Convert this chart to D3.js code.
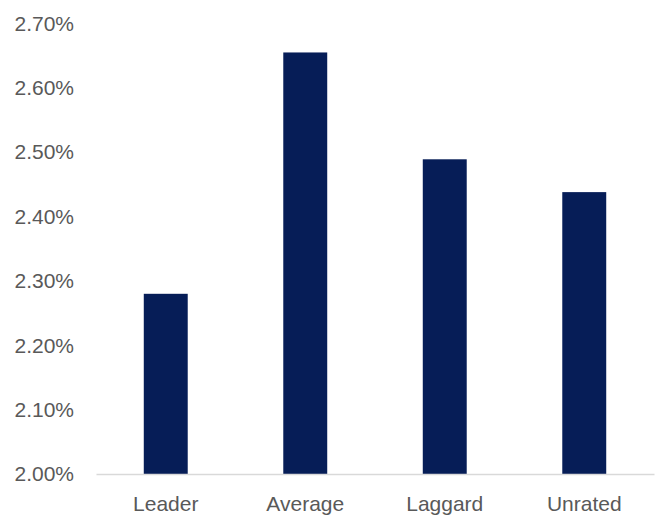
<!DOCTYPE html>
<html>
<head>
<meta charset="utf-8">
<script src="https://cdn.jsdelivr.net/npm/d3@7"></script>
<style>
  body { margin: 0; background: #fff; }
  .tick text { font-family: "Liberation Sans", Arial, sans-serif; font-size: 21px; fill: #595959; }
</style>
</head>
<body>
<div id="chart"></div>
<script>
// data
var categories = ["Leader", "Average", "Laggard", "Unrated"];
var values = [2.28, 2.655, 2.489, 2.438];
var yTicks = [2.0, 2.1, 2.2, 2.3, 2.4, 2.5, 2.6, 2.7];

// svg area
var svgWidth = 665;
var svgHeight = 516;

var chartMargin = { top: 23.5, right: 11, bottom: 42, left: 96 };
var chartWidth = svgWidth - chartMargin.left - chartMargin.right;
var chartHeight = svgHeight - chartMargin.top - chartMargin.bottom;

var svg = d3.select("#chart")
    .append("svg")
    .attr("width", svgWidth)
    .attr("height", svgHeight);

var chartGroup = svg.append("g")
    .attr("transform", `translate(${chartMargin.left}, ${chartMargin.top})`);

// scales
var xScale = d3.scaleBand()
    .domain(categories)
    .range([0, chartWidth])
    .paddingInner(0.685)
    .paddingOuter(0.3425);

var yScale = d3.scaleLinear()
    .domain([2.0, 2.7])
    .range([chartHeight, 0]);

// y axis (labels only)
var leftAxis = d3.axisLeft(yScale)
    .tickValues(yTicks)
    .tickSize(0)
    .tickPadding(22)
    .tickFormat(d => d.toFixed(2) + "%");

chartGroup.append("g")
    .call(leftAxis)
    .call(g => g.select(".domain").remove());

// bars
chartGroup.selectAll("rect")
    .data(values)
    .enter()
    .append("rect")
    .attr("x", (d, i) => xScale(categories[i]))
    .attr("y", d => yScale(d))
    .attr("width", xScale.bandwidth())
    .attr("height", d => chartHeight - yScale(d))
    .attr("fill", "#061d57");

// x axis
var bottomAxis = d3.axisBottom(xScale)
    .tickSize(0)
    .tickPadding(22);

chartGroup.append("g")
    .attr("transform", `translate(0, ${chartHeight})`)
    .call(bottomAxis)
    .call(g => g.select(".domain")
        .attr("stroke", "#d9d9d9")
        .attr("stroke-width", 1.5));
</script>
</body>
</html>
